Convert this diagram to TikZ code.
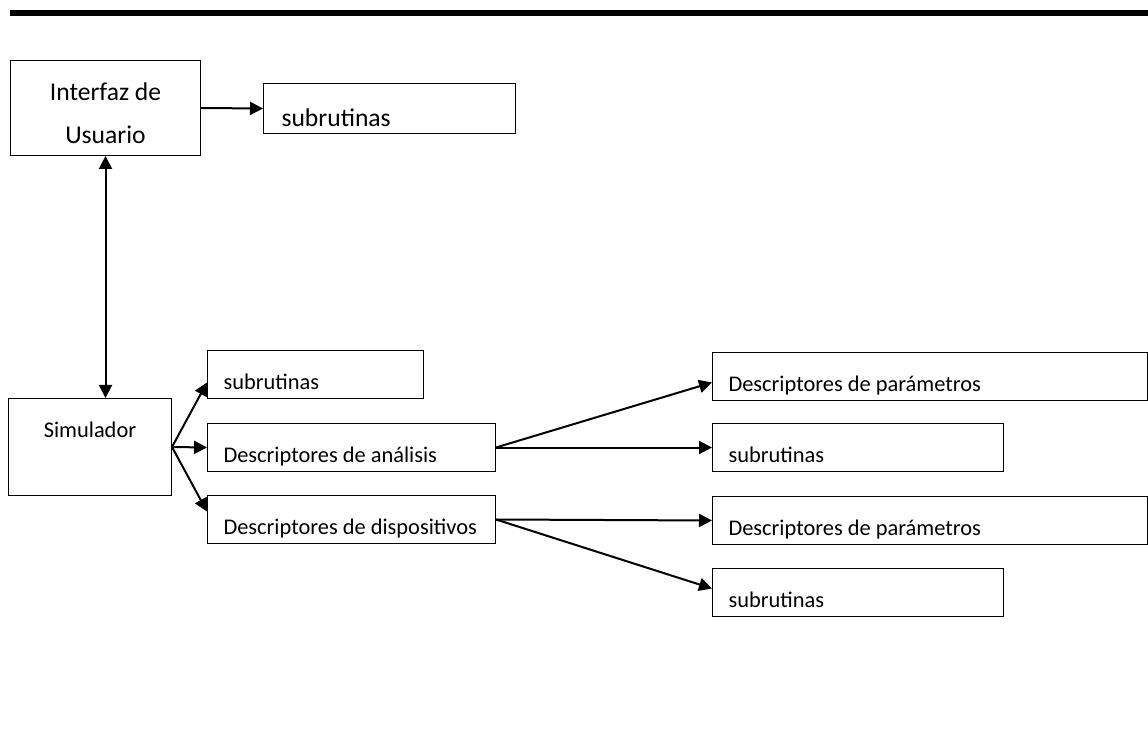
\documentclass[tikz,border=0pt]{standalone}
\usepackage{fontspec}
\setmainfont{Carlito}
\usetikzlibrary{arrows.meta}

\tikzset{
  caja/.style={draw, line width=0.5pt, anchor=north west, inner xsep=8pt, inner ysep=0pt,
    text height=19.5pt, text depth=4.5pt, align=flush left, font=\fontsize{11.2}{14}\selectfont},
  flecha/.style={line width=1pt, -{Triangle[length=6.5pt,width=6.5pt]}}
}

\begin{document}
\begin{tikzpicture}[x=0.5pt, y=-0.5pt]
      \useasboundingbox (0,0) rectangle (1148,733);
      \draw[line width=3pt] (10,13) -- (1148,13);

      \node[draw, line width=0.5pt, anchor=north west, minimum width=95pt, minimum height=47.5pt, inner sep=0pt, align=center,
            font=\fontsize{12.8}{16}\selectfont] (ui) at (10,60) {\rule{0pt}{14pt}Interfaz de\\[5.5pt]Usuario};
      \node[caja, text width=108pt, text height=21.5pt, text depth=3.5pt, inner xsep=9pt,
            font=\fontsize{12.8}{16}\selectfont] (sub0) at (263,83) {subrutinas};

      \node[draw, line width=0.5pt, anchor=north west, minimum width=81.5pt, inner sep=0pt, text width=81.5pt, align=center,
            text height=19.5pt, text depth=29pt, font=\fontsize{11.2}{14}\selectfont] (sim) at (8,398) {Simulador};

      \node[caja, text width=92pt] (sub1) at (207,350) {subrutinas};
      \node[caja, text width=128pt] (ana) at (207,423) {Descriptores de análisis};
      \node[caja, text width=128pt] (disp) at (207,495) {Descriptores de dispositivos};

      \node[caja, text width=201.5pt] (par1) at (712,352) {Descriptores de parámetros};
      \node[caja, text width=129.5pt] (sub2) at (712,423) {subrutinas};
      \node[caja, text width=201.5pt] (par2) at (712,496) {Descriptores de parámetros};
      \node[caja, text width=129.5pt] (sub3) at (712,568) {subrutinas};

      \draw[flecha] (ui.east) -- (sub0.west);
      \draw[flecha, {Triangle[length=6.5pt,width=6.5pt]}-{Triangle[length=6.5pt,width=6.5pt]}] (ui.south) -- (ui.south |- sim.north);

      \draw[flecha] (sim.east) -- ([yshift=-4pt]sub1.west);
      \draw[flecha] (sim.east) -- (ana.west);
      \draw[flecha] (sim.east) -- ([yshift=4pt]disp.west);

      \draw[flecha] (ana.east) -- ([yshift=-3pt]par1.west);
      \draw[flecha] (ana.east) -- (sub2.west);
      \draw[flecha] (disp.east) -- (par2.west);
      \draw[flecha] (disp.east) -- ([yshift=2pt]sub3.west);
\end{tikzpicture}
\end{document}
